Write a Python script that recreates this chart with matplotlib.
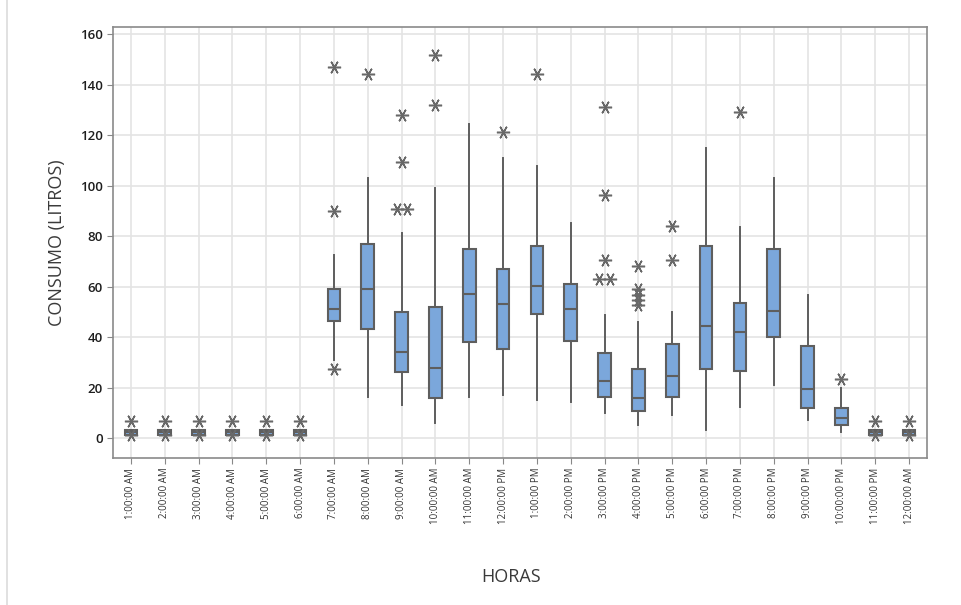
import matplotlib.pyplot as plt
from matplotlib.lines import Line2D
import numpy as np

plt.rcParams['font.family'] = ['Open Sans', 'DejaVu Sans']

horas = ['1:00:00 AM', '2:00:00 AM', '3:00:00 AM', '4:00:00 AM', '5:00:00 AM',
         '6:00:00 AM', '7:00:00 AM', '8:00:00 AM', '9:00:00 AM', '10:00:00 AM',
         '11:00:00 AM', '12:00:00 PM', '1:00:00 PM', '2:00:00 PM', '3:00:00 PM',
         '4:00:00 PM', '5:00:00 PM', '6:00:00 PM', '7:00:00 PM', '8:00:00 PM',
         '9:00:00 PM', '10:00:00 PM', '11:00:00 PM', '12:00:00 AM']

# five-number summaries per hour (litros)
whislo = [1.4, 1.4, 1.4, 1.4, 1.4, 1.4, 31.0, 16.4, 13.1, 5.8, 16.4, 17.0,
          15.0, 14.4, 9.8, 5.1, 9.1, 3.2, 12.4, 21.0, 7.1, 2.5, 1.4, 1.4]
q1 = [1.4, 1.4, 1.4, 1.4, 1.4, 1.4, 46.5, 43.0, 26.0, 16.0, 37.9, 35.1,
      49.0, 38.5, 16.4, 10.8, 16.4, 27.2, 26.7, 39.9, 12.0, 5.1, 1.4, 1.4]
med = [2.2, 2.2, 2.2, 2.2, 2.2, 2.2, 51.0, 59.1, 33.9, 27.9, 57.0, 53.1,
       60.3, 51.0, 22.6, 16.0, 24.6, 44.5, 41.9, 50.4, 19.3, 8.0, 2.2, 2.2]
q3 = [3.0, 3.0, 3.0, 3.0, 3.0, 3.0, 59.1, 76.8, 49.8, 51.8, 74.7, 66.9,
      76.2, 61.0, 33.8, 27.2, 37.2, 76.2, 53.6, 74.7, 36.4, 12.0, 3.0, 3.0]
whishi = [3.0, 3.0, 3.0, 3.0, 3.0, 3.0, 72.5, 103.1, 81.1, 98.9, 124.2, 111.0,
          107.7, 85.0, 48.7, 46.1, 50.0, 115.0, 83.7, 102.8, 56.6, 19.7, 3.0, 3.0]
atipicos = [[6.8, 1.2], [6.8, 1.2], [6.8, 1.2], [6.8, 1.2], [6.8, 1.2], [6.8, 1.2],
            [147.1, 90.0, 27.2], [144.0], [127.9, 109.4, 90.7, 90.7],
            [151.9, 131.9], [], [121.3], [144.0], [],
            [131.2, 96.2, 70.5, 63.0, 63.0], [68.3, 59.0, 56.6, 54.6, 52.8],
            [84.1, 70.5], [], [129.2], [], [], [23.4], [6.8, 1.2], [6.8, 1.2]]

edge = '#5e5e5e'
fill = '#7ba7db'

fig = plt.figure(figsize=(9.61, 6.05), dpi=100)
ax = fig.add_axes([0.1176, 0.243, 0.847, 0.7124])
fig.add_artist(Line2D([0.0075, 0.0075], [0, 1], color='#dcdcdc', lw=1.2))

stats = [dict(whislo=a, q1=b, med=c, q3=d, whishi=e, fliers=[])
         for a, b, c, d, e in zip(whislo, q1, med, q3, whishi)]
pos = np.arange(1, len(horas) + 1)
ax.bxp(stats, positions=pos, widths=0.375, patch_artist=True, showcaps=False,
       boxprops=dict(facecolor=fill, edgecolor=edge, linewidth=1.5),
       medianprops=dict(color=edge, linewidth=1.5),
       whiskerprops=dict(color=edge, linewidth=1.4), zorder=3)

# outliers; repeated values are spread sideways
for x, vals in zip(pos, atipicos):
    for v in set(vals):
        n = vals.count(v)
        offs = (np.arange(n) - (n - 1) / 2) * 0.3
        ax.plot(x + offs, [v] * n, linestyle='none', marker=(6, 2, 90),
                markersize=9.5, markeredgewidth=1.1, color='#686868', zorder=4)

ax.set_xlim(0.47, 24.53)
ax.set_ylim(-7.9, 162.8)
ax.set_yticks(np.arange(0, 161, 20))
ax.set_xticks(pos)
ax.set_xticklabels(horas, rotation=90, fontsize=7, color='#333333')
ax.tick_params(axis='y', labelsize=9.5, colors='#1e1e1e', length=4, color='#888888')
ax.tick_params(axis='x', length=4, color='#888888', pad=3)
for lab in ax.get_yticklabels():
    lab.set_fontweight('semibold')

ax.grid(True, color='#e4e4e4', linewidth=1.2, zorder=0)
ax.set_axisbelow(True)
for s in ax.spines.values():
    s.set_color('#8a8a8a')
    s.set_linewidth(1.2)

ax.set_ylabel('CONSUMO (LITROS)', fontsize=13, color='#3a3a3a', labelpad=10)
fig.text(0.532, 0.047, 'HORAS', fontsize=13, color='#3a3a3a', ha='center', va='center')

plt.savefig('out.png', dpi=100)
